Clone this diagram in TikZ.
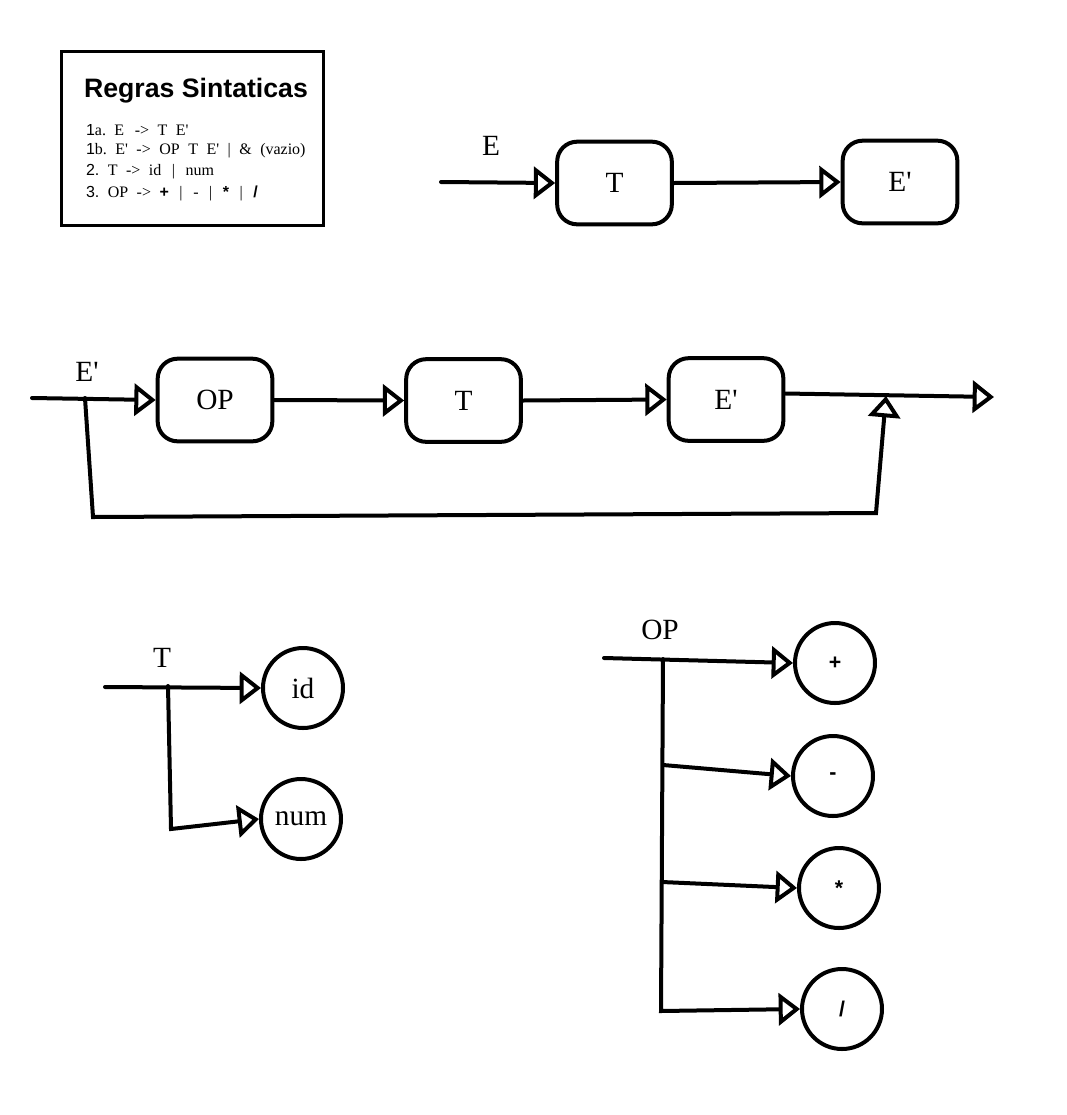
\documentclass[tikz,border=0pt]{standalone}
\usepackage{fontspec}
\setmainfont{Liberation Serif}[Ligatures=TeXOff]
\setsansfont{Liberation Sans}[Ligatures=TeXOff]
\usetikzlibrary{arrows.meta,calc}
\newcommand{\gap}{\hspace{0.53em}}
\newcommand{\wgap}{\hspace{0.66em}}

\begin{document}
\begin{tikzpicture}[x=0.75pt,y=-0.75pt,line width=3pt,line cap=round,
  tip/.style={-{Triangle[open,length=16pt,width=24pt]}},
  box/.style={draw,rounded corners=15pt,minimum width=86pt,minimum height=62pt,
    inner sep=0pt,font=\fontsize{22}{26}\selectfont},
  circ/.style={draw,circle,minimum size=60pt,inner sep=0pt},
  big/.style={font=\fontsize{22}{26}\selectfont},
  sym/.style={font=\sffamily\bfseries\fontsize{16}{19}\selectfont},
  rule/.style={anchor=west,inner sep=0pt,font=\fontsize{12}{14}\selectfont}]

\useasboundingbox (0,0) rectangle (1067,1115);

% grammar summary
\node[draw,line width=2.2pt,minimum width=197pt,minimum height=131pt,inner sep=0pt]
  (legend) at (192.5,138.5) {};
\node[font=\sffamily\bfseries\fontsize{20}{24}\selectfont] (title) at (196,91) {Regras Sintaticas};
\node[rule] (r1) at (84,130) {\textsf{1}a.\gap E\wgap ->\gap T\gap E'};
\node[rule] (r2) at (84,151) {\textsf{1}b.\gap E'\gap ->\gap OP\gap T\gap E'\gap |\gap \&\gap (vazio)};
\node[rule] (r3) at (84,172) {\textsf{2.}\gap T\gap ->\gap id\wgap |\wgap num};
\node[rule] (r4) at (84,193) {\textsf{3.}\gap OP\gap ->\gap \textsf{\bfseries +}\wgap |\wgap -\wgap |\wgap \textsf{\bfseries *}\wgap |\wgap \textsf{\bfseries /}};

% E -> T E'
\node[big] (lE) at (491,146) {E};
\coordinate (s1) at (441,182);
\node[box] (t1) at (614.5,183) {T};
\node[box] (e1) at (900,182) {E'};
\draw[tip] (s1) -- (t1.west);
\draw[tip] (t1.east) -- (e1.west);

% E' -> OP T E' | empty
\node[big] (lE2) at (87,372) {E'};
\coordinate (s2) at (32,398);
\coordinate (br) at (85,398);
\coordinate (lb1) at (93,517);
\coordinate (lb2) at (876,513);
\coordinate (mg) at (886,396);
\coordinate (end2) at (994,397);
\node[box] (op) at (215,400) {OP};
\node[box] (t2) at (463.5,400.5) {T};
\node[box] (e2) at (726,399.5) {E'};
\draw[tip] (s2) -- (op.west);
\draw[tip] (op.east) -- (t2.west);
\draw[tip] (t2.east) -- (e2.west);
\draw[tip] ($(e2.east)+(0,-6)$) -- (end2);
\draw[tip] (br) -- (lb1) -- (lb2) -- (mg);

% T -> id | num
\node[big] (lT) at (162,658) {T};
\coordinate (s3) at (105,687);
\coordinate (b3) at (168,686);
\coordinate (b3d) at (171,829);
\node[circ,big] (id) at (303,688) {id};
\node[circ,big] (num) at (301,819) {num};
\draw[tip] (s3) -- (id.west);
\draw[tip] (b3) -- (b3d) -- (num.west);

% OP -> + | - | * | /
\node[big] (lOP) at (660,630) {OP};
\coordinate (s4) at (604,658);
\coordinate (v0) at (663,659);
\coordinate (v1) at (663,765);
\coordinate (v2) at (662,882);
\coordinate (v3) at (661,1011);
\node[circ,sym] (plus) at (835,663) {+};
\node[circ,sym] (minus) at (833,776) {-};
\node[circ,sym] (times) at (839,888) {*};
\node[circ,sym] (div) at (842,1009) {/};
\draw[tip] (s4) -- (plus.west);
\draw[tip] (v1) -- (minus.west);
\draw[tip] (v2) -- (times.west);
\draw[tip] (v0) -- (v3) -- (div.west);
\end{tikzpicture}
\end{document}
